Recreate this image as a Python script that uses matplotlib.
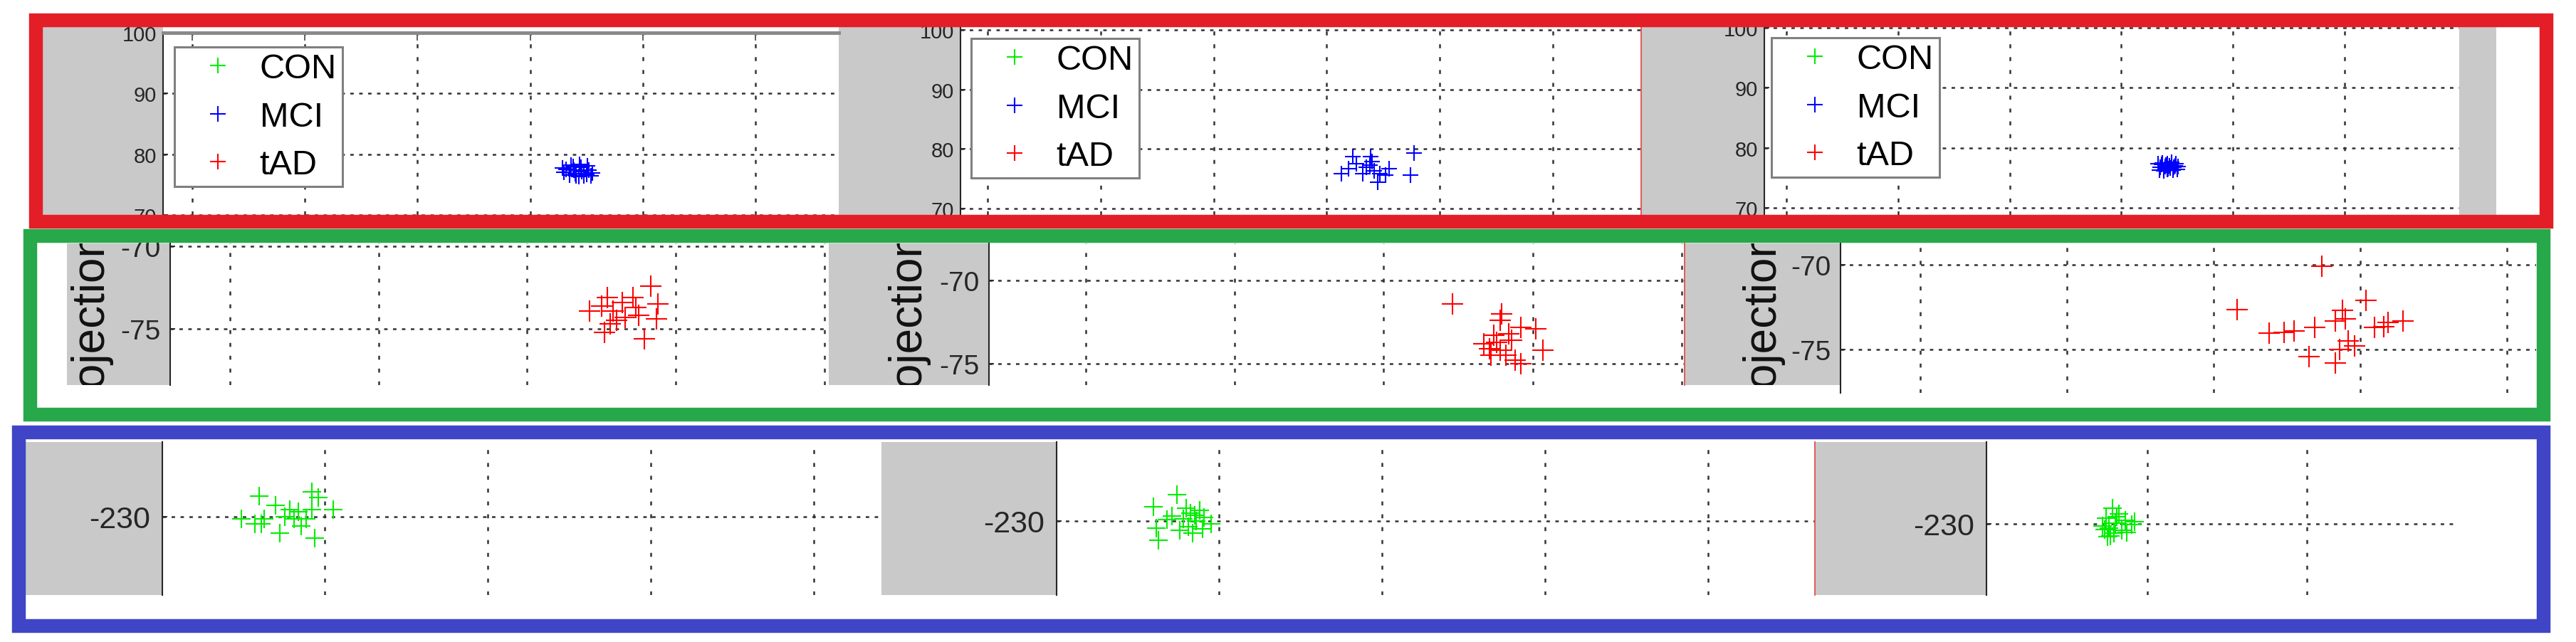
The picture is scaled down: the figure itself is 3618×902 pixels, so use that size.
import matplotlib
matplotlib.use('Agg')
import matplotlib.pyplot as plt
from matplotlib.patches import Rectangle

plt.rcParams['font.family'] = ['Liberation Sans', 'DejaVu Sans']
plt.rcParams['lines.scale_dashes'] = False
plt.rcParams['axes.unicode_minus'] = False

W, H = 3618, 903
GRAY = '#c9c9c9'

groups = ['CON', 'MCI', 'tAD']
group_colors = {'CON': '#00ee00', 'MCI': '#0000ff', 'tAD': '#ff0000'}
ylabel_text = 'Projection'

# MCI cluster, one list per plot (left, middle, right)
mci_x = [[33.2, 33.8, 34.5, 35.2, 34.0, 33.5, 34.8, 35.5, 34.3, 33.0, 34.6, 35.1, 33.9, 34.1, 35.0, 33.6, 34.4, 32.9, 35.4],
         [37.7, 31.3, 37.4, 34.5, 33.5, 32.3, 34.0, 35.5, 33.2, 32.6, 34.7, 33.9, 35.2, 31.9, 34.2, 33.8],
         [33.3, 33.7, 34.1, 34.5, 34.9, 35.1, 33.5, 33.9, 34.3, 34.7, 35.0, 33.4, 33.8, 34.2, 34.6, 34.0, 34.4, 33.6, 34.8, 34.1]]
mci_y = [[77.5, 78.0, 77.9, 77.4, 76.8, 76.6, 76.4, 76.9, 76.3, 77.0, 77.2, 78.1, 77.4, 76.5, 76.7, 78.2, 78.3, 77.7, 76.4],
         [79.3, 75.9, 75.6, 74.4, 77.0, 78.7, 77.9, 76.7, 75.9, 77.6, 75.9, 78.7, 75.6, 76.7, 76.4, 77.3],
         [77.3, 77.5, 77.4, 77.6, 77.3, 76.9, 76.8, 76.9, 77.0, 76.7, 76.4, 76.3, 76.2, 76.5, 76.3, 77.1, 76.6, 77.2, 77.0, 76.4]]

# tAD cluster
tad_x = [[28.3, 25.4, 24.2, 27.1, 28.8, 28.7, 25.8, 26.6, 27.5, 25.2, 27.9, 26.0, 25.0, 27.3, 26.4, 25.6],
         [24.6, 27.9, 27.8, 30.2, 29.2, 28.6, 27.6, 27.1, 26.7, 30.7, 28.2, 29.2, 27.8, 27.4, 28.4, 28.8, 27.2],
         [27.4, 21.6, 30.4, 28.8, 29.0, 28.3, 32.9, 31.9, 31.0, 26.9, 25.5, 24.8, 23.8, 29.2, 29.6, 28.6, 26.5, 28.3, 31.6]]
tad_y = [[-72.4, -73.1, -73.9, -73.1, -73.5, -74.4, -73.9, -74.3, -74.2, -75.2, -75.6, -74.5, -73.6, -73.7, -73.4, -74.7],
         [-71.4, -72.0, -72.4, -72.9, -72.8, -73.6, -73.7, -74.1, -73.8, -74.2, -74.5, -75.0, -74.2, -73.3, -73.2, -74.8, -74.5],
         [-70.1, -72.65, -72.1, -72.7, -73.2, -73.3, -73.3, -73.4, -73.7, -73.7, -73.9, -74.0, -74.05, -74.5, -74.8, -75.0, -75.4, -75.8, -73.65]]

# CON cluster
con_x = [[-4.0, -0.8, -0.8, 0.5, -5.1, -4.3, -3.0, -2.75, -1.9, -1.45, -0.6, -2.45, -1.15, -3.7, -0.4, -2.15, -3.9, -1.6],
         [-2.6, -3.7, -1.75, -0.5, -4.0, -3.85, -1.6, -2.2, -1.2, -1.9, -2.9, -0.9, -1.4, -2.4, -3.2, -1.0, -2.0, -1.5],
         [-2.2, -1.8, -2.6, -1.4, -2.0, -2.8, -1.0, -2.4, -1.6, -2.1, -2.5, -1.3, -1.9, -2.3, -0.8, -2.7]]
con_y = [[-227.8, -227.3, -229.2, -229.2, -230.2, -230.8, -228.8, -231.8, -230.2, -231.0, -232.3, -230.0, -230.2, -230.2, -227.9, -229.2, -230.8, -229.5],
         [-227.2, -232.1, -229.2, -230.3, -228.5, -230.8, -231.3, -229.8, -228.9, -230.6, -229.5, -229.6, -230.0, -231.0, -229.9, -230.9, -228.6, -229.4],
         [-228.3, -228.9, -229.4, -229.6, -229.9, -230.2, -230.1, -230.5, -230.7, -231.0, -231.4, -230.9, -229.2, -231.3, -229.8, -230.6]]

row_yticks = [[70, 80, 90, 100], [-75, -70], [-230]]
row_xticks = [[0, 10, 20, 30, 40, 50], [0, 10, 20, 30, 40], [0, 10, 20, 30]]

# layout of the collage, in pixels from the top left corner
rows = [
    dict(group='MCI', xs=mci_x, ys=mci_y, fs=21, pad=6.5, ms=16,
         rects=[(229, 47, 1178, 303), (1349, 40, 2305, 303), (2478, 38, 3454, 303)],
         xlims=[(-2.59, 57.4), (-2.39, 57.8), (-1.98, 60.27)],
         ylims=[(71.56, 100), (68.95, 100.35), (68.8, 100.24)]),
    dict(group='tAD', xs=tad_x, ys=tad_y, fs=28, pad=10, ms=21,
         rects=[(239, 343, 1164, 542), (1389, 343, 2366, 542), (2585, 343, 3562, 553)],
         xlims=[(-4.02, 40.3), (-6.5, 40.2), (-5.44, 42.0)],
         ylims=[(-78.4, -69.83), (-76.28, -67.78), (-77.56, -68.74)]),
    dict(group='CON', xs=con_x, ys=con_y, fs=31, pad=12, ms=19,
         rects=[(228, 622, 1238, 837), (1484, 622, 2549, 837), (2790, 622, 3452, 837)],
         xlims=[(-9.96, 34.15), (-9.96, 36.55), (-10.1, 19.5)],
         ylims=[(-238.5, -221.9), (-238.0, -221.5), (-237.7, -221.15)]),
]
gray_regions = [
    (38, 303, [(60, 229), (1178, 1349), (2305, 2478), (3454, 3506)]),
    (343, 542, [(94, 239), (1164, 1389), (2366, 2585)]),
    (622, 837, [(36, 228), (1238, 1484), (2549, 2790)]),
]
legend_pos = [(245, 67), (1364, 55), (2488, 54)]
ylabel_base = [142, 1290, 2490]
borders = [((50, 29, 3576, 312), '#e41e26'),
           ((42, 332, 3572, 583), '#27a84a'),
           ((26, 608, 3572, 880), '#3f45c6')]

fig = plt.figure(figsize=(W / 100, H / 100), dpi=100)
fig.patch.set_facecolor('white')


def px_axes(x0, y0, x1, y1):
    return fig.add_axes([x0 / W, 1 - y1 / H, (x1 - x0) / W, (y1 - y0) / H])


bg = px_axes(0, 0, W, H)
bg.set_xlim(0, W)
bg.set_ylim(H, 0)
bg.axis('off')
for y0, y1, spans in gray_regions:
    for x0, x1 in spans:
        bg.add_patch(Rectangle((x0, y0), x1 - x0, y1 - y0, facecolor=GRAY, edgecolor='none'))

for r, row in enumerate(rows):
    for c in range(3):
        ax = px_axes(*row['rects'][c])
        ax.set_facecolor('white')
        g = row['group']
        handles = {}
        for name in groups:
            if name == g:
                xs, ys = row['xs'][c], row['ys'][c]
            else:
                xs, ys = [], []
            handles[name], = ax.plot(xs, ys, linestyle='none', marker='+', color=group_colors[name],
                                     markersize=row['ms'], markeredgewidth=1.5, label=name)
        lo, hi = row['xlims'][c]
        ax.set_xlim(lo, hi)
        ax.set_ylim(*row['ylims'][c])
        ax.set_xticks([t for t in row_xticks[r] if lo < t < hi])
        ax.set_yticks(row_yticks[r])
        ax.set_axisbelow(True)
        ax.xaxis.grid(True, color='#333333', linewidth=1.8, linestyle=(0, (4, 9)))
        ax.yaxis.grid(True, color='#333333', linewidth=1.8, linestyle=(0, (3.5, 5.5)))
        for s in ax.spines.values():
            s.set_visible(False)
        ax.spines['left'].set_visible(True)
        ax.spines['left'].set_color('#262626')
        ax.spines['left'].set_linewidth(1.5)
        if c == 1:
            ax.spines['right'].set_visible(True)
            ax.spines['right'].set_color('#e05050')
            ax.spines['right'].set_linewidth(1.3)
        ax.tick_params(axis='y', direction='in', length=5, width=1.3, colors='#262626',
                       labelsize=row['fs'], pad=row['pad'])
        ax.tick_params(axis='x', bottom=False, labelbottom=False)
        if r == 0 and c == 0:
            ax.spines['top'].set_visible(True)
            ax.spines['top'].set_color('#8a8a8a')
            ax.spines['top'].set_linewidth(3.6)
            ax.tick_params(axis='x', top=True, direction='in', length=8, width=1.3, colors='#555555')
        if r == 0:
            lx, ly = legend_pos[c]
            leg = ax.legend(handles=[handles[n] for n in groups], loc='upper left',
                            bbox_to_anchor=(lx / W, 1 - ly / H), bbox_transform=fig.transFigure,
                            borderaxespad=0, fontsize=35, fancybox=False, framealpha=1,
                            edgecolor='#808080', borderpad=0.16, labelspacing=0.47,
                            handlelength=2.2, handletextpad=0.1)
            leg.get_frame().set_linewidth(2.2)

# cropped axis label on the middle row
y0, y1, spans = gray_regions[1]
for c in range(3):
    x0, x1 = spans[c]
    clip = Rectangle((x0, y0), x1 - x0, y1 - y0, transform=bg.transData)
    t = bg.text(ylabel_base[c], 604, ylabel_text, rotation=90, rotation_mode='anchor',
                ha='left', va='baseline', fontsize=46, color='#111111')
    t.set_clip_path(clip)
    t.set_clip_on(True)

ov = px_axes(0, 0, W, H)
ov.set_xlim(0, W)
ov.set_ylim(H, 0)
ov.axis('off')
ov.patch.set_alpha(0)
for (x0, y0, x1, y1), col in borders:
    ov.add_patch(Rectangle((x0, y0), x1 - x0, y1 - y0, fill=False, edgecolor=col, linewidth=14))

fig.savefig('out.png', dpi=100)
